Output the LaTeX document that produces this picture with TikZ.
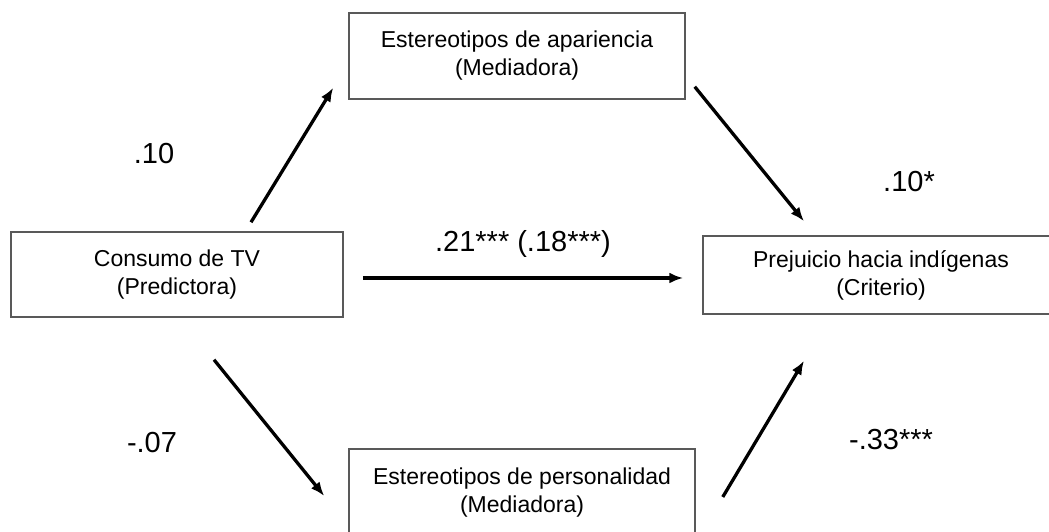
\documentclass[tikz,border=0pt]{standalone}
\usepackage{fontspec}
\setmainfont{Liberation Sans}
\usetikzlibrary{arrows.meta}
\tikzset{>={Latex[length=14pt,width=11pt]}}

\begin{document}
\begin{tikzpicture}[x=1pt,y=1pt,
    varbox/.style={draw=black!65,line width=1.5pt,align=center,inner sep=0pt,
      font=\fontsize{23}{28}\selectfont},
    effect/.style={->,line width=3.3pt},
    coef/.style={anchor=base,font=\fontsize{29}{32}\selectfont}]

  % page
  \useasboundingbox (0,0) rectangle (1049,532);

  % variables
  \node[varbox,minimum width=336pt,minimum height=86pt] (apar) at (517,476)
    {Estereotipos de apariencia\\(Mediadora)};
  \node[varbox,minimum width=332pt,minimum height=85pt] (tv) at (177,257.5)
    {Consumo de TV\\(Predictora)};
  \node[varbox,minimum width=356pt,minimum height=78pt] (prej) at (881,257)
    {Prejuicio hacia indígenas\\(Criterio)};
  \node[varbox,minimum width=346pt,minimum height=88pt] (pers) at (522,39)
    {Estereotipos de personalidad\\(Mediadora)};

  % paths
  \draw[effect] ([shift={(74,9)}]tv.north) -- ([shift={(-15,12)}]apar.south west);
  \draw[effect] ([shift={(9,13)}]apar.south east) -- ([shift={(-77,14)}]prej.north);
  \draw[effect] ([shift={(19,-3.5)}]tv.east) -- ([shift={(-19,-3)}]prej.west);
  \draw[effect] ([shift={(37,-42)}]tv.south) -- ([shift={(-24,-3)}]pers.west);
  \draw[effect] ([shift={(27,-4)}]pers.east) -- ([shift={(-77,-46)}]prej.south);

  % coefficients
  \node[coef] (a1) at (154,368) {.10};
  \node[coef] (b1) at (909,340) {.10*};
  \node[coef] (c1) at (523,280) {.21*** (.18***)};
  \node[coef] (a2) at (152,79) {-.07};
  \node[coef] (b2) at (891,82) {-.33***};

\end{tikzpicture}
\end{document}
